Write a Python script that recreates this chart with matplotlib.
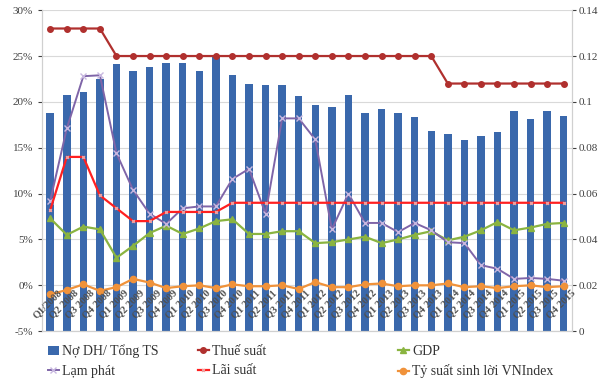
import matplotlib
matplotlib.use('Agg')
import matplotlib.pyplot as plt
import matplotlib.ticker as ticker
import numpy as np

plt.rcParams['font.family'] = ['Liberation Serif', 'DejaVu Serif']

# Quarters Q1/2008 .. Q4/2015
quarters = ['Q1/2008'] + ['Q%d %d' % (q, y) for y in range(2008, 2016) for q in range(1, 5)][1:]

# Values (percent)
no_dh = [18.8, 20.8, 21.1, 22.5, 24.1, 23.4, 23.8, 24.2, 24.2, 23.4,
         25.1, 22.9, 22.0, 21.8, 21.8, 20.6, 19.7, 19.4, 20.8, 18.8,
         19.2, 18.8, 18.4, 16.8, 16.5, 15.8, 16.3, 16.7, 19.0, 18.1,
         19.0, 18.5]
thue_suat = [28, 28, 28, 28] + [25] * 20 + [22] * 8
gdp = [7.3, 5.5, 6.4, 6.1, 3.0, 4.3, 5.7, 6.5, 5.6, 6.2,
       7.0, 7.2, 5.6, 5.6, 5.9, 5.9, 4.6, 4.7, 5.0, 5.3,
       4.6, 5.0, 5.5, 5.9, 4.9, 5.3, 6.0, 6.9, 6.0, 6.3,
       6.7, 6.8]
lam_phat = [9.2, 17.1, 22.8, 22.9, 14.4, 10.4, 7.8, 6.7, 8.4, 8.6,
            8.6, 11.6, 12.7, 7.8, 18.2, 18.2, 15.9, 6.1, 10.0, 6.8,
            6.8, 5.8, 6.8, 6.0, 4.7, 4.6, 2.2, 1.8, 0.7, 0.8,
            0.7, 0.5]
lai_suat = [8.2, 14, 14, 9.8, 8.4, 7.0, 7.0, 8, 8, 8,
            8] + [9] * 21
vnindex = [-1.0, -0.5, 0.1, -0.6, -0.2, 0.7, 0.3, -0.3, -0.1, 0.0,
           -0.3, 0.1, -0.1, -0.1, 0.0, -0.4, 0.35, -0.2, -0.2, 0.1,
           0.2, -0.1, 0.0, 0.0, 0.2, -0.2, -0.1, -0.3, -0.1, 0.0,
           -0.2, -0.1]

YMIN, YMAX = -5, 30
x = np.arange(len(quarters))

fig = plt.figure(figsize=(5.99, 3.91), dpi=100)
ax = fig.add_axes([0.07, 0.153, 0.885, 0.821])
ax2 = ax.twinx()

# bars behind the lines: bars on the right axes, lines on the left axes drawn on top
ax.set_zorder(2)
ax.patch.set_visible(False)

# Excel draws the bars from the bottom of the axis
ax2.set_ylim(YMIN, YMAX)
bars = ax2.bar(x, [v - YMIN for v in no_dh], bottom=YMIN, width=0.45,
               color='#3A68AC', label='Nợ DH/ Tổng TS')
ax2.set_yticks(np.arange(YMIN, YMAX + 0.1, 5))
ax2.yaxis.set_major_formatter(ticker.FuncFormatter(lambda v, pos: '%g' % round((v + 5) / 250, 2)))

l_thue, = ax.plot(x, thue_suat, color='#B0302E', lw=1.6, marker='o', ms=4, label='Thuế suất')
l_gdp, = ax.plot(x, gdp, color='#8AB440', lw=1.6, marker='^', ms=4, label='GDP')
l_lp, = ax.plot(x, lam_phat, color='#7F65A8', lw=1.4, marker='x', ms=4, mec='#C8B8E0', label='Lạm phát')
l_ls, = ax.plot(x, lai_suat, color='#FF2020', lw=1.6, marker='x', ms=2, mec='#F0A0A0', label='Lãi suất')
l_vn, = ax.plot(x, vnindex, color='#F0923A', lw=1.6, marker='o', ms=4.5, label='Tỷ suất sinh lời VNIndex')

ax.set_xlim(-0.5, len(quarters) - 0.5)
ax.set_ylim(YMIN, YMAX)
ax.set_yticks(np.arange(YMIN, YMAX + 0.1, 5))
ax.yaxis.set_major_formatter(ticker.FuncFormatter(lambda v, pos: '%d%%' % v))
ax2.grid(axis='y', color='#D9D9D9', lw=0.8)
ax2.set_axisbelow(True)
ax.set_xticks([])

for a in (ax, ax2):
    a.tick_params(axis='y', labelsize=8, colors='#404040', length=3)
    for s in a.spines.values():
        s.set_color('#D0D0D0')
    a.spines['top'].set_visible(False)
ax2.tick_params(axis='y', pad=2)

# category labels sit under the 0% line, rotated
for i, q in enumerate(quarters):
    ax.text(i + 0.4, -0.3, q, rotation=45, ha='right', va='top', fontsize=7.5,
            color='#505050', fontweight='bold', rotation_mode='anchor', zorder=5)

leg_kw = dict(frameon=False, fontsize=10, handlelength=0.85, handletextpad=0.2,
              labelspacing=0.5, loc='upper left', borderaxespad=0, labelcolor='#333333')
fig.legend(handles=[bars, l_lp], bbox_to_anchor=(42 / 599, 1 - 339 / 391), **leg_kw)
fig.legend(handles=[l_thue, l_ls], bbox_to_anchor=(192 / 599, 1 - 339 / 391), **leg_kw)
fig.legend(handles=[l_gdp, l_vn], bbox_to_anchor=(392 / 599, 1 - 339 / 391), **leg_kw)

fig.savefig('out.png', dpi=100)
